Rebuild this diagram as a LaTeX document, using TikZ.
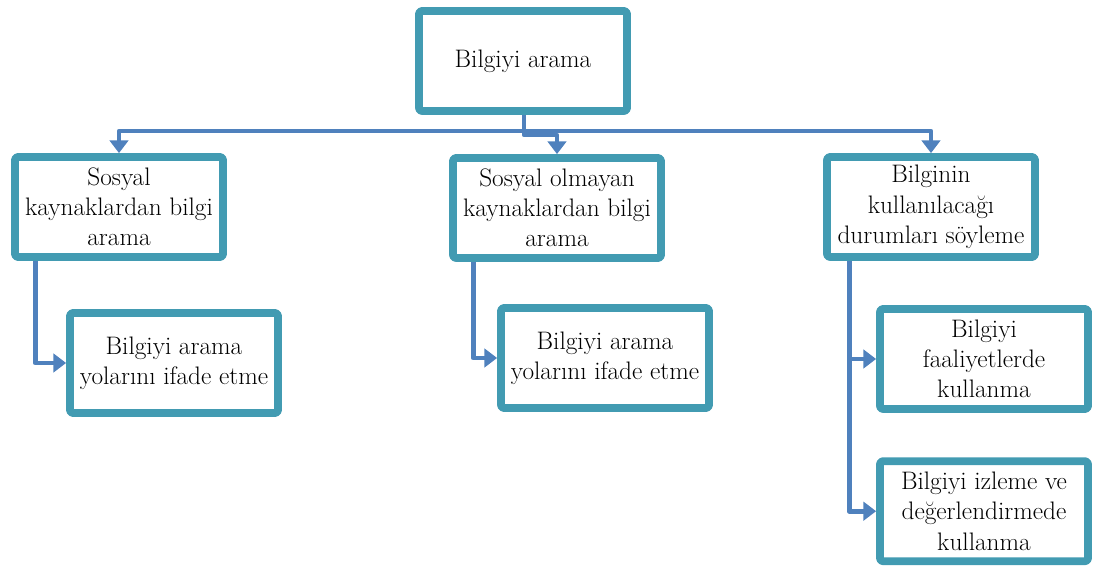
\documentclass[tikz,border=0pt]{standalone}
\usetikzlibrary{arrows.meta}
\usetikzlibrary{shadows}
\definecolor{boxline}{RGB}{66,155,178}
\definecolor{linkline}{RGB}{79,129,189}
\begin{document}
\begin{tikzpicture}[line join=round]
\tikzstyle{task}=[draw=boxline, line width=5.5pt, fill=white, rounded corners=2pt,
  minimum width=5.2cm, minimum height=2.5cm, inner sep=1pt, align=center,
  font=\fontsize{18}{21.5}\selectfont,
  drop shadow={opacity=0.25, shadow xshift=0.05cm, shadow yshift=-0.05cm}]
\tikzstyle{link}=[draw=linkline, line width=3.4pt, -{Triangle[width=13pt,length=9pt]}]
\useasboundingbox (0,0) rectangle (27.325,14.2);
\node[task]	(top)	at (13.075,12.675)	{Bilgiyi arama};
\node[task]	(sos)	at (2.975,9.025)	{Sosyal\\kaynaklardan bilgi\\arama};
\node[task]	(nsos)	at (13.925,9.0)		{Sosyal olmayan\\kaynaklardan bilgi\\arama};
\node[task]	(kul)	at (23.275,9.025)	{Bilginin\\kullanılacağı\\durumları söyleme};
\node[task]	(sosY)	at (4.35,5.125)		{Bilgiyi arama\\yolarını ifade etme};
\node[task]	(nsosY)	at (15.125,5.25)	{Bilgiyi arama\\yolarını ifade etme};
\node[task]	(faal)	at (24.6,5.225)		{Bilgiyi\\faaliyetlerde\\kullanma};
\node[task]	(izle)	at (24.6,1.42)		{Bilgiyi izleme ve\\değerlendirmede\\kullanma};
\coordinate (split) at (13.1,10.925);
% top level branches
\draw[link] (top.south -| split) -- (split) -| (sos.north);
\draw[link] (split) -| (kul.north);
\draw[link] (split) -- ++(0,-0.1) -| (nsos.north);
% second level
\draw[link] ([xshift=0.6cm]sos.south west) |- (sosY.west);
\draw[link] ([xshift=0.6cm]nsos.south west) |- (nsosY.west);
\draw[link] ([xshift=0.65cm]kul.south west) |- (faal.west);
\draw[link] ([xshift=0.65cm]kul.south west) |- (izle.west);
\end{tikzpicture}
\end{document}
